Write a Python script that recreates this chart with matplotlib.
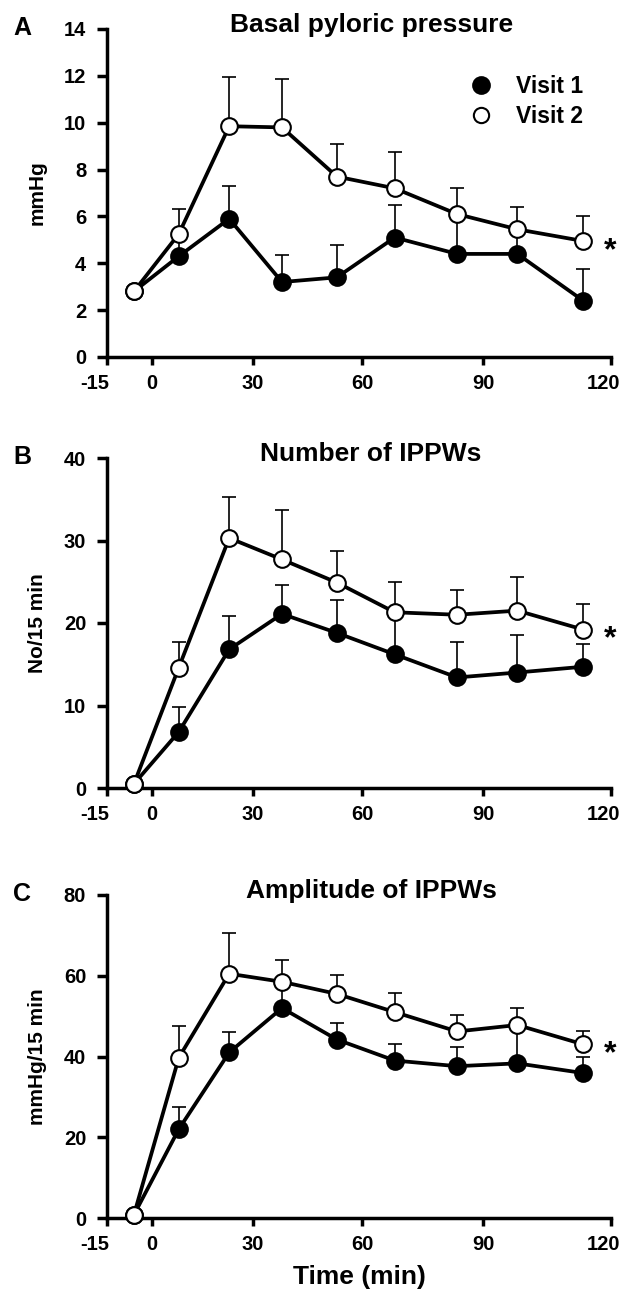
import numpy as np
import matplotlib
matplotlib.use('Agg')
import matplotlib.pyplot as plt
from matplotlib.lines import Line2D
from matplotlib.transforms import ScaledTranslation

plt.rcParams['font.family'] = ['Liberation Sans', 'DejaVu Sans']
plt.rcParams['font.weight'] = 'bold'

# ---------------- data ----------------
time_min = [-6, 8, 23, 38, 53, 68, 83.5, 98, 113.5]
x_tick_values = [-15, 0, 30, 60, 90, 120]

basal_v1 = [2.8, 4.3, 5.9, 3.2, 3.4, 5.1, 4.4, 4.4, 2.4]
basal_v1_err = [0.0, 1.0, 1.4, 1.15, 1.4, 1.4, 1.6, 1.0, 1.35]
basal_v2 = [2.8, 5.25, 9.85, 9.8, 7.7, 7.2, 6.1, 5.45, 4.95]
basal_v2_err = [0.0, 1.05, 2.1, 2.05, 1.4, 1.55, 1.1, 0.95, 1.05]

number_v1 = [0.5, 6.8, 16.8, 21.1, 18.8, 16.2, 13.4, 14.0, 14.7]
number_v1_err = [0.0, 3.0, 4.0, 3.5, 4.0, 4.5, 4.3, 4.5, 2.8]
number_v2 = [0.5, 14.6, 30.3, 27.7, 24.9, 21.3, 21.0, 21.5, 19.2]
number_v2_err = [0.0, 3.1, 5.0, 6.0, 3.8, 3.7, 3.0, 4.1, 3.1]

amp_v1 = [0.8, 22.0, 41.0, 52.0, 44.2, 39.0, 37.6, 38.3, 35.9]
amp_v1_err = [0.0, 5.6, 5.0, 6.0, 4.0, 4.2, 4.7, 8.5, 3.9]
amp_v2 = [0.8, 39.7, 60.5, 58.5, 55.5, 51.0, 46.2, 47.8, 43.0]
amp_v2_err = [0.0, 7.8, 10.0, 5.3, 4.8, 4.8, 4.1, 4.1, 3.3]

titles = ['Basal pyloric pressure', 'Number of IPPWs', 'Amplitude of IPPWs']
ylabels = ['mmHg', 'No/15 min', 'mmHg/15 min']
letters = ['A', 'B', 'C']
y_max = [14, 40, 80]
y_step = [2, 10, 20]
series = [(basal_v1, basal_v1_err, basal_v2, basal_v2_err),
          (number_v1, number_v1_err, number_v2, number_v2_err),
          (amp_v1, amp_v1_err, amp_v2, amp_v2_err)]
legend_labels = ['Visit 1', 'Visit 2']

# ---------------- layout ----------------
W, H = 625, 1300
fig = plt.figure(figsize=(W / 100, H / 100), dpi=100)

# the reference x-axis is not evenly spaced between its ticks
scale_anchor_pos = [0, 45, 146, 256, 377, 505]


def fwd(v):
    return np.interp(v, x_tick_values, scale_anchor_pos)


def inv(p):
    return np.interp(p, scale_anchor_pos, x_tick_values)


panel_px = [(29, 357), (458, 788), (895, 1218)]
left_px, right_px = 107, 611
MS = 12

for i in range(3):
    top, bot = panel_px[i]
    ax = fig.add_axes([left_px / W, 1 - bot / H, (right_px - left_px) / W, (bot - top) / H])
    ax.set_xscale('function', functions=(fwd, inv))
    ax.set_xlim(-15, 120)
    ax.set_ylim(0, y_max[i])
    ax.set_xticks(x_tick_values)
    ax.set_xticklabels([str(v) for v in x_tick_values])
    ax.set_yticks(np.arange(0, y_max[i] + 1, y_step[i]))
    for s in ['top', 'right']:
        ax.spines[s].set_visible(False)
    for s in ['left', 'bottom']:
        ax.spines[s].set_linewidth(2.5)
    ax.tick_params(axis='x', width=2.5, length=5.5, labelsize=14.5, pad=7)
    ax.tick_params(axis='y', width=2.5, length=7, labelsize=14.5, pad=8)
    for lab in ax.get_xticklabels() + ax.get_yticklabels():
        lab.set_fontweight('bold')
    # the "-15" label sits left of its tick, "120" stays inside the picture
    xlabs = ax.get_xticklabels()
    xlabs[0].set_transform(xlabs[0].get_transform() + ScaledTranslation(-12 / 100, 0, fig.dpi_scale_trans))
    xlabs[-1].set_transform(xlabs[-1].get_transform() + ScaledTranslation(-8 / 100, 0, fig.dpi_scale_trans))

    v1, e1, v2, e2 = series[i]
    zeros = np.zeros(len(time_min))
    ax.errorbar(time_min, v1, yerr=[zeros, e1], fmt='none', ecolor='black',
                elinewidth=1.2, capsize=5, capthick=1.2, zorder=1, clip_on=False)
    ax.errorbar(time_min, v2, yerr=[zeros, e2], fmt='none', ecolor='black',
                elinewidth=1.2, capsize=5, capthick=1.2, zorder=1, clip_on=False)
    ax.plot(time_min, v1, '-', color='black', lw=2.7, zorder=2, clip_on=False)
    ax.plot(time_min, v2, '-', color='black', lw=2.7, zorder=2, clip_on=False)
    ax.plot(time_min, v1, 'o', ms=MS, mfc='black', mec='black', mew=1.5,
            zorder=3, clip_on=False)
    ax.plot(time_min, v2, 'o', ms=MS, mfc='white', mec='black', mew=1.5,
            zorder=4, clip_on=False)

    ax.annotate('*', xy=(time_min[-1], v2[-1]), xytext=(15, -7),
                textcoords='offset points', fontsize=23, fontweight='bold',
                ha='left', va='center', annotation_clip=False)

    ax.set_ylabel(ylabels[i], fontsize=15, fontweight='bold', labelpad=12)
    ax.annotate(titles[i], xy=(0.524, 1.0), xycoords='axes fraction',
                xytext=(0, 3), textcoords='offset points', ha='center',
                va='center', fontsize=19, fontweight='bold')
    fig.text(13 / W, 1 - (top - 1) / H, letters[i], fontsize=18, fontweight='bold',
             ha='left', va='center')

    if i == 0:
        handles = [Line2D([], [], ls='none', marker='o', ms=MS, mfc='black', mec='black', mew=1.5),
                   Line2D([], [], ls='none', marker='o', ms=MS - 1, mfc='white', mec='black', mew=1.5)]
        ax.legend(handles, legend_labels, loc='upper left', bbox_to_anchor=(0.697, 0.895),
                  frameon=False, prop={'size': 16.5, 'weight': 'bold'},
                  handletextpad=1.0, labelspacing=0.3, borderpad=0, handlelength=1.0)

    if i == 2:
        ax.set_xlabel('Time (min)', fontsize=19, fontweight='bold', labelpad=8)

fig.savefig('out.png', dpi=100)
